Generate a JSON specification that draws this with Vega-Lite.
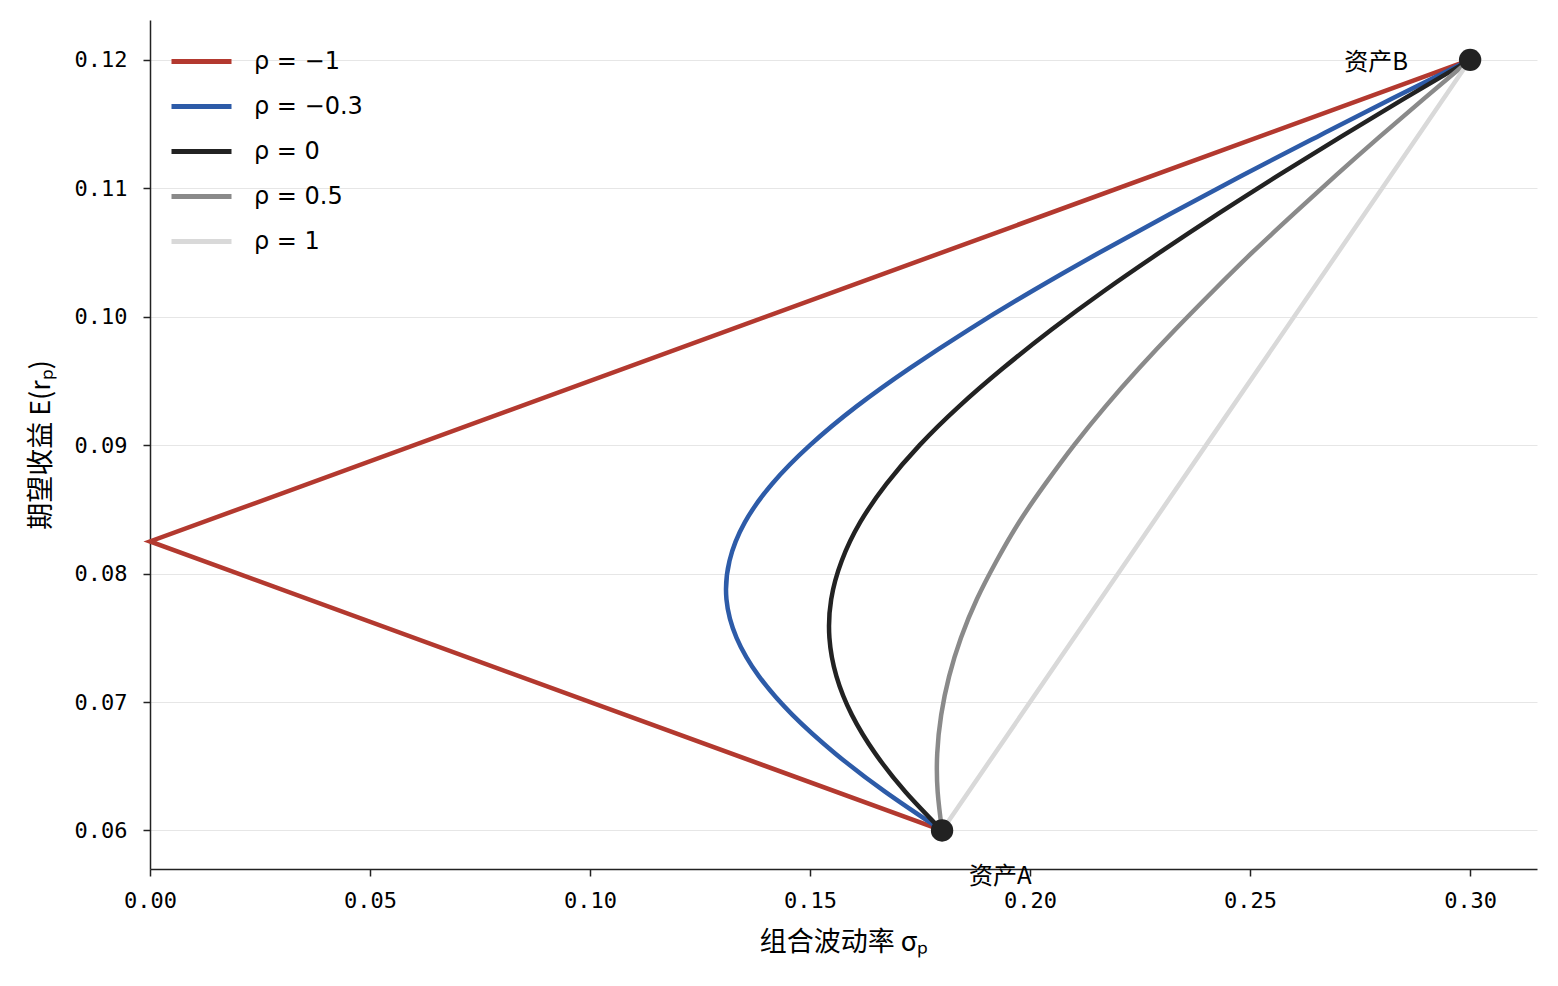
{
  "$schema": "https://vega.github.io/schema/vega-lite/v6.json",
  "width": 1387,
  "height": 849,
  "autosize": "none",
  "padding": {"left": 150, "top": 20, "right": 21, "bottom": 117},
  "background": "white",
  "datasets": {
    "kinked": [
      {"rho": "ρ = −1", "w": 0, "sigma": 0.18, "ret": 0.06},
      {"rho": "ρ = −1", "w": 0.625, "sigma": 0.0, "ret": 0.0825},
      {"rho": "ρ = −1", "w": 1, "sigma": 0.30, "ret": 0.12}
    ],
    "curves": [
      {"rho": "ρ = −0.3", "w": 0.00, "sigma": 0.1800, "ret": 0.060},
      {"rho": "ρ = −0.3", "w": 0.05, "sigma": 0.1671, "ret": 0.063},
      {"rho": "ρ = −0.3", "w": 0.10, "sigma": 0.1557, "ret": 0.066},
      {"rho": "ρ = −0.3", "w": 0.15, "sigma": 0.1460, "ret": 0.069},
      {"rho": "ρ = −0.3", "w": 0.20, "sigma": 0.1384, "ret": 0.072},
      {"rho": "ρ = −0.3", "w": 0.25, "sigma": 0.1333, "ret": 0.075},
      {"rho": "ρ = −0.3", "w": 0.30, "sigma": 0.1310, "ret": 0.078},
      {"rho": "ρ = −0.3", "w": 0.35, "sigma": 0.1317, "ret": 0.081},
      {"rho": "ρ = −0.3", "w": 0.40, "sigma": 0.1352, "ret": 0.084},
      {"rho": "ρ = −0.3", "w": 0.45, "sigma": 0.1414, "ret": 0.087},
      {"rho": "ρ = −0.3", "w": 0.50, "sigma": 0.1500, "ret": 0.090},
      {"rho": "ρ = −0.3", "w": 0.55, "sigma": 0.1605, "ret": 0.093},
      {"rho": "ρ = −0.3", "w": 0.60, "sigma": 0.1727, "ret": 0.096},
      {"rho": "ρ = −0.3", "w": 0.65, "sigma": 0.1861, "ret": 0.099},
      {"rho": "ρ = −0.3", "w": 0.70, "sigma": 0.2005, "ret": 0.102},
      {"rho": "ρ = −0.3", "w": 0.75, "sigma": 0.2158, "ret": 0.105},
      {"rho": "ρ = −0.3", "w": 0.80, "sigma": 0.2318, "ret": 0.108},
      {"rho": "ρ = −0.3", "w": 0.85, "sigma": 0.2482, "ret": 0.111},
      {"rho": "ρ = −0.3", "w": 0.90, "sigma": 0.2652, "ret": 0.114},
      {"rho": "ρ = −0.3", "w": 0.95, "sigma": 0.2824, "ret": 0.117},
      {"rho": "ρ = −0.3", "w": 1.00, "sigma": 0.3000, "ret": 0.120},
      {"rho": "ρ = 0", "w": 0.00, "sigma": 0.1800, "ret": 0.060},
      {"rho": "ρ = 0", "w": 0.05, "sigma": 0.1717, "ret": 0.063},
      {"rho": "ρ = 0", "w": 0.10, "sigma": 0.1648, "ret": 0.066},
      {"rho": "ρ = 0", "w": 0.15, "sigma": 0.1595, "ret": 0.069},
      {"rho": "ρ = 0", "w": 0.20, "sigma": 0.1560, "ret": 0.072},
      {"rho": "ρ = 0", "w": 0.25, "sigma": 0.1544, "ret": 0.075},
      {"rho": "ρ = 0", "w": 0.30, "sigma": 0.1548, "ret": 0.078},
      {"rho": "ρ = 0", "w": 0.35, "sigma": 0.1572, "ret": 0.081},
      {"rho": "ρ = 0", "w": 0.40, "sigma": 0.1614, "ret": 0.084},
      {"rho": "ρ = 0", "w": 0.45, "sigma": 0.1674, "ret": 0.087},
      {"rho": "ρ = 0", "w": 0.50, "sigma": 0.1749, "ret": 0.090},
      {"rho": "ρ = 0", "w": 0.55, "sigma": 0.1838, "ret": 0.093},
      {"rho": "ρ = 0", "w": 0.60, "sigma": 0.1939, "ret": 0.096},
      {"rho": "ρ = 0", "w": 0.65, "sigma": 0.2049, "ret": 0.099},
      {"rho": "ρ = 0", "w": 0.70, "sigma": 0.2168, "ret": 0.102},
      {"rho": "ρ = 0", "w": 0.75, "sigma": 0.2295, "ret": 0.105},
      {"rho": "ρ = 0", "w": 0.80, "sigma": 0.2427, "ret": 0.108},
      {"rho": "ρ = 0", "w": 0.85, "sigma": 0.2564, "ret": 0.111},
      {"rho": "ρ = 0", "w": 0.90, "sigma": 0.2706, "ret": 0.114},
      {"rho": "ρ = 0", "w": 0.95, "sigma": 0.2851, "ret": 0.117},
      {"rho": "ρ = 0", "w": 1.00, "sigma": 0.3000, "ret": 0.120},
      {"rho": "ρ = 0.5", "w": 0.00, "sigma": 0.1800, "ret": 0.060},
      {"rho": "ρ = 0.5", "w": 0.05, "sigma": 0.1790, "ret": 0.063},
      {"rho": "ρ = 0.5", "w": 0.10, "sigma": 0.1789, "ret": 0.066},
      {"rho": "ρ = 0.5", "w": 0.15, "sigma": 0.1798, "ret": 0.069},
      {"rho": "ρ = 0.5", "w": 0.20, "sigma": 0.1816, "ret": 0.072},
      {"rho": "ρ = 0.5", "w": 0.25, "sigma": 0.1843, "ret": 0.075},
      {"rho": "ρ = 0.5", "w": 0.30, "sigma": 0.1879, "ret": 0.078},
      {"rho": "ρ = 0.5", "w": 0.35, "sigma": 0.1924, "ret": 0.081},
      {"rho": "ρ = 0.5", "w": 0.40, "sigma": 0.1975, "ret": 0.084},
      {"rho": "ρ = 0.5", "w": 0.45, "sigma": 0.2035, "ret": 0.087},
      {"rho": "ρ = 0.5", "w": 0.50, "sigma": 0.2100, "ret": 0.090},
      {"rho": "ρ = 0.5", "w": 0.55, "sigma": 0.2171, "ret": 0.093},
      {"rho": "ρ = 0.5", "w": 0.60, "sigma": 0.2248, "ret": 0.096},
      {"rho": "ρ = 0.5", "w": 0.65, "sigma": 0.2330, "ret": 0.099},
      {"rho": "ρ = 0.5", "w": 0.70, "sigma": 0.2416, "ret": 0.102},
      {"rho": "ρ = 0.5", "w": 0.75, "sigma": 0.2505, "ret": 0.105},
      {"rho": "ρ = 0.5", "w": 0.80, "sigma": 0.2599, "ret": 0.108},
      {"rho": "ρ = 0.5", "w": 0.85, "sigma": 0.2695, "ret": 0.111},
      {"rho": "ρ = 0.5", "w": 0.90, "sigma": 0.2794, "ret": 0.114},
      {"rho": "ρ = 0.5", "w": 0.95, "sigma": 0.2896, "ret": 0.117},
      {"rho": "ρ = 0.5", "w": 1.00, "sigma": 0.3000, "ret": 0.120},
      {"rho": "ρ = 1", "w": 0.00, "sigma": 0.1800, "ret": 0.060},
      {"rho": "ρ = 1", "w": 0.50, "sigma": 0.2400, "ret": 0.090},
      {"rho": "ρ = 1", "w": 1.00, "sigma": 0.3000, "ret": 0.120}
    ],
    "assets": [
      {"name": "资产A", "sigma": 0.18, "ret": 0.06},
      {"name": "资产B", "sigma": 0.30, "ret": 0.12}
    ]
  },
  "encoding": {
    "x": {
      "field": "sigma",
      "type": "quantitative",
      "title": "组合波动率 σₚ",
      "scale": {"domain": [0, 0.3152], "nice": false, "zero": false},
      "axis": {"values": [0, 0.05, 0.1, 0.15, 0.2, 0.25, 0.3], "format": ".2f", "grid": false, "labelFlush": false, "labelPadding": 14, "titlePadding": 18}
    },
    "y": {
      "field": "ret",
      "type": "quantitative",
      "title": "期望收益 E(rₚ)",
      "scale": {"domain": [0.057, 0.1231], "nice": false, "zero": false},
      "axis": {"values": [0.06, 0.07, 0.08, 0.09, 0.1, 0.11, 0.12], "format": ".2f", "grid": true, "labelPadding": 16, "titlePadding": 19}
    }
  },
  "layer": [
    {
      "data": {"name": "kinked"},
      "mark": {"type": "line", "strokeWidth": 4.5},
      "encoding": {
        "order": {"field": "w", "type": "quantitative"},
        "color": {
          "field": "rho",
          "type": "nominal",
          "title": null,
          "scale": {
            "domain": ["ρ = −1", "ρ = −0.3", "ρ = 0", "ρ = 0.5", "ρ = 1"],
            "range": ["#b3392f", "#2d5ba8", "#222222", "#8a8a8a", "#d9d9d9"]
          },
          "legend": {
            "orient": "none",
            "legendX": 19,
            "legendY": 9,
            "symbolType": "stroke",
            "symbolSize": 3600,
            "symbolStrokeWidth": 5,
            "labelFont": "DejaVu Sans",
            "labelFontSize": 24,
            "labelColor": "black",
            "labelOffset": 20,
            "rowPadding": 0
          }
        }
      }
    },
    {
      "data": {"name": "curves"},
      "mark": {"type": "line", "strokeWidth": 4.5, "interpolate": "natural"},
      "encoding": {
        "order": {"field": "w", "type": "quantitative"},
        "color": {"field": "rho", "type": "nominal"}
      }
    },
    {
      "data": {"name": "assets"},
      "mark": {"type": "point", "filled": true, "size": 500, "color": "#222222", "opacity": 1}
    },
    {
      "data": {"name": "assets"},
      "transform": [{"filter": "datum.name === '资产A'"}],
      "mark": {"type": "text", "align": "left", "baseline": "middle", "dx": 27, "dy": 47, "font": "Noto Sans CJK SC", "fontSize": 24, "color": "black"},
      "encoding": {"text": {"field": "name"}}
    },
    {
      "data": {"name": "assets"},
      "transform": [{"filter": "datum.name === '资产B'"}],
      "mark": {"type": "text", "align": "right", "baseline": "middle", "dx": -62, "dy": 3, "font": "Noto Sans CJK SC", "fontSize": 24, "color": "black"},
      "encoding": {"text": {"field": "name"}}
    }
  ],
  "config": {
    "view": {"stroke": null},
    "axis": {
      "domainColor": "#222222",
      "domainWidth": 1.5,
      "tickColor": "#222222",
      "tickWidth": 1.5,
      "tickSize": 7,
      "labelFont": "DejaVu Sans Mono",
      "labelFontSize": 22,
      "labelColor": "black",
      "titleFont": "Noto Sans CJK SC",
      "titleFontSize": 27,
      "titleFontWeight": "normal",
      "titleColor": "black",
      "gridColor": "#e6e6e6",
      "gridWidth": 1
    }
  }
}
